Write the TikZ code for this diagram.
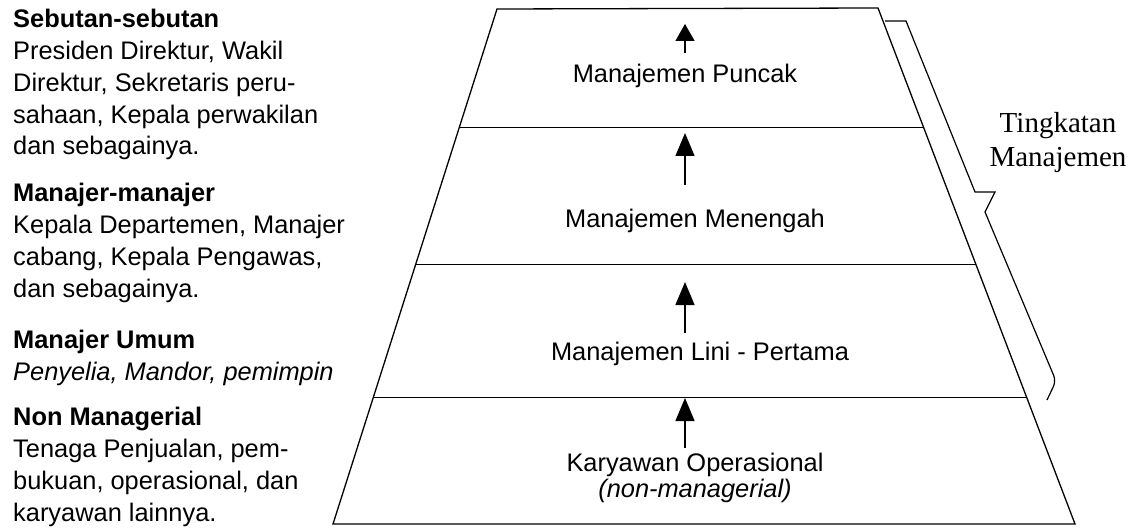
\documentclass[tikz,border=0pt]{standalone}
\usepackage{fontspec}
\setmainfont{Liberation Sans}
\newfontfamily\tingkatfont{Liberation Serif}
\usetikzlibrary{arrows.meta}

\tikzset{
  pyramid/.style={line width=1.3pt, line join=miter},
  levelline/.style={line width=1pt},
  uparrow/.style={line width=1.4pt, -{Triangle[length=23pt,width=19pt]}},
  leveltext/.style={anchor=base, inner sep=0pt, align=center,
    font=\fontsize{25.4pt}{26pt}\selectfont},
  sidetext/.style={anchor=base west, inner sep=0pt, align=left,
    font=\fontsize{25.4pt}{31.8pt}\selectfont},
}

\begin{document}
\begin{tikzpicture}[x=1pt,y=-1pt]

        \useasboundingbox (0,0) rectangle (1137,529);

        %%% LEFT TEXT (base = last line)

        \node[sidetext] (sebutan) at (13,155) {\textbf{Sebutan-sebutan}\\
          Presiden Direktur, Wakil\\
          Direktur, Sekretaris peru-\\
          sahaan, Kepala perwakilan\\
          dan sebagainya.};
        \node[sidetext] (manajer) at (13,297) {\textbf{Manajer-manajer}\\
          Kepala Departemen, Manajer\\
          cabang, Kepala Pengawas,\\
          dan sebagainya.};
        \node[sidetext] (umum) at (13,380) {\textbf{Manajer Umum}\\
          \textit{Penyelia, Mandor, pemimpin}};
        \node[sidetext] (nonman) at (13,521) {\textbf{Non Managerial}\\
          Tenaga Penjualan, pem-\\
          bukuan, operasional, dan\\
          karyawan lainnya.};

        %%% PYRAMID

        % Outline
        \draw[pyramid] (497,9) -- (878,8) -- (1075,524) -- (333,524) -- cycle;

        % Level lines
        \draw[levelline] (459,128) -- (924,128);
        \draw[levelline] (416,265) -- (976,265);
        \draw[levelline] (374,397) -- (1027,397);

        % Level names
        \node[leveltext] (puncak) at (685,83) {Manajemen Puncak};
        \node[leveltext] (menengah) at (695,228) {Manajemen Menengah};
        \node[leveltext] (lini) at (700,360) {Manajemen Lini - Pertama};
        \node[leveltext] (operasional) at (695,497)
          {Karyawan Operasional\\\textit{(non-managerial)}};

        % Arrows
        \coordinate (p1) at (685,53);  \coordinate (q1) at (685,24);
        \coordinate (p2) at (685,185); \coordinate (q2) at (685,133);
        \coordinate (p3) at (685,333); \coordinate (q3) at (685,282);
        \coordinate (p4) at (685,448); \coordinate (q4) at (685,398);
        \draw[uparrow, -{Triangle[length=17pt,width=19pt]}] (p1) -- (q1);
        \draw[uparrow] (p2) -- (q2);
        \draw[uparrow] (p3) -- (q3);
        \draw[uparrow] (p4) -- (q4);

        %%% BRACE (right)

        \draw[line width=1.2pt] (885,21) -- (906,21) -- (975,192) -- (995,192) -- (985,212)
          [rounded corners=6pt] -- (1056,381) -- (1047,400);
        \node[anchor=base, inner sep=0pt, align=center,
          font=\tingkatfont\fontsize{29pt}{34pt}\selectfont] (tingkat) at (1058,167)
          {Tingkatan\\Manajemen};

\end{tikzpicture}
\end{document}
